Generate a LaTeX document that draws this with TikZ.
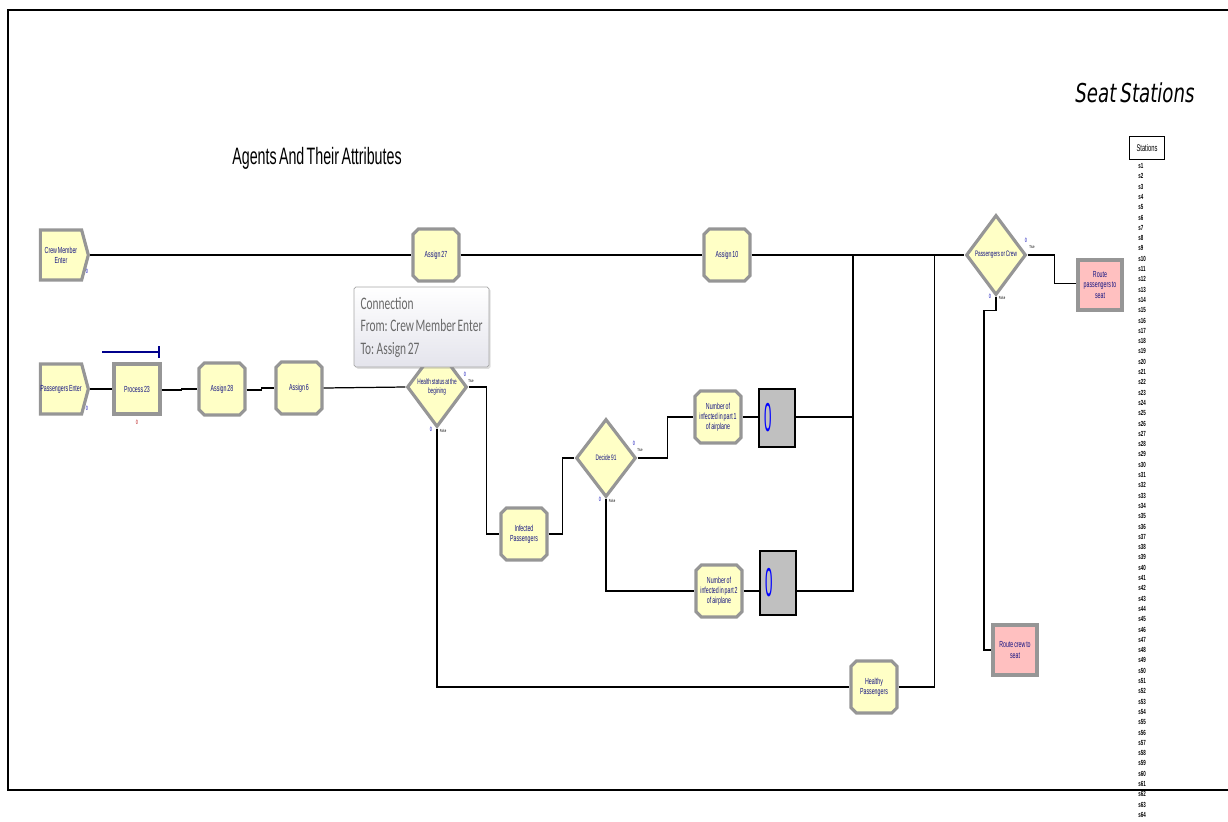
\documentclass[tikz,border=0pt]{standalone}
\usepackage{fontspec}
\setmainfont{Liberation Sans}
\newfontfamily\narrowfont{Liberation Sans}[FakeStretch=0.6,WordSpace=0.6]
\newfontfamily\seatfont{DejaVu Sans}[FakeStretch=0.7,WordSpace=0.7]
\newfontfamily\tipfont{Carlito}[FakeStretch=0.65,WordSpace=0.65]
\usetikzlibrary{shapes.geometric,shapes.misc,shapes.symbols,shadows}

\definecolor{modyellow}{RGB}{255,255,198}
\definecolor{modpink}{RGB}{255,192,192}
\definecolor{modedge}{RGB}{150,150,150}
\definecolor{modtext}{RGB}{20,20,130}
\definecolor{countgray}{RGB}{192,192,192}
\definecolor{tipgray}{RGB}{105,105,105}

\begin{document}
\begin{tikzpicture}[x=0.02cm,y=-0.02cm,
    module/.style={draw=modedge,line width=1.8pt,fill=modyellow,text=modtext,
        font=\narrowfont\fontsize{5}{5.8}\selectfont,align=center,inner sep=0pt},
    createbox/.style={module,signal,signal to=east,signal pointer angle=150,
        minimum width=0.96cm,minimum height=1.0cm},
    assignbox/.style={module,chamfered rectangle,chamfered rectangle xsep=1.5pt,
        chamfered rectangle ysep=1.5pt,minimum width=0.92cm,minimum height=1.04cm},
    processbox/.style={module,rectangle,minimum width=0.92cm,minimum height=1.0cm},
    decidebox/.style={module,diamond,minimum width=1.2cm,minimum height=1.6cm,
        font=\narrowfont\fontsize{4.5}{5.6}\selectfont},
    routebox/.style={module,rectangle,fill=modpink,minimum width=0.88cm,minimum height=1.0cm},
    countbox/.style={draw=black,line width=0.6pt,fill=countgray},
    link/.style={draw=black,line width=0.7pt},
    counter/.style={font=\narrowfont\fontsize{3.5}{4}\selectfont,text=blue!70!black,inner sep=0pt},
    flag/.style={font=\narrowfont\fontsize{2.5}{3}\selectfont,inner sep=0pt},
    slot/.style={font=\narrowfont\bfseries\fontsize{4.2}{5}\selectfont,inner sep=0pt,anchor=west}]

    \useasboundingbox (0,0) rectangle (1228,822);

    % outer frame of the sheet
    \draw[line width=0.8pt] (1240,10) -- (8,10) -- (8,790) -- (1240,790);

    % headings
    \node[font=\narrowfont\fontsize{13.5}{15}\selectfont] (agents) at (317,158) {Agents And Their Attributes};
    \node[font=\seatfont\itshape\fontsize{14.8}{17}\selectfont] (seat) at (1135,93) {Seat Stations};

    % crew line
    \node[createbox] (crewenter) at (61,255) {Crew Member\\Enter};
    \node[assignbox] (assign27) at (436,255) {Assign 27};
    \node[assignbox] (assign10) at (727,255) {Assign 10};

    % passenger line
    \node[createbox] (paxenter) at (61,389) {Passengers Enter};
    \node[processbox] (process23) at (137,389) {Process 23};
    \node[assignbox] (assign28) at (222,389) {Assign 28};
    \node[assignbox] (assign6) at (299,388) {Assign 6};
    \node[decidebox] (health) at (437,387) {Health status at the\\begining};

    % infected branch
    \node[assignbox] (infected) at (524,534) {Infected\\Passengers};
    \node[decidebox,minimum height=1.56cm] (decide91) at (606,458) {Decide 91};
    \node[assignbox] (part1) at (718,417) {Number of\\infected in part 1\\of airplane};
    \node[assignbox] (part2) at (719,591) {Number of\\infected in part 2\\of airplane};
    \node[countbox,minimum width=0.72cm,minimum height=1.16cm] (count1) at (777,418) {};
    \node[countbox,minimum width=0.72cm,minimum height=1.28cm] (count2) at (778,583) {};
    \node[text=blue,font=\narrowfont\fontsize{23}{24}\selectfont,inner sep=0pt] (zero1) at (768,418) {\scalebox{0.55}[1]{0}};
    \node[text=blue,font=\narrowfont\fontsize{23}{24}\selectfont,inner sep=0pt] (zero2) at (769,583) {\scalebox{0.55}[1]{0}};

    % healthy branch
    \node[assignbox] (healthy) at (874,687) {Healthy\\Passengers};

    % routing to the seats
    \node[decidebox] (paxorcrew) at (996,255) {Passengers or Crew};
    \node[routebox] (routepax) at (1100,285) {Route\\passengers to\\seat};
    \node[routebox] (routecrew) at (1015,650) {Route crew to\\seat};

    % station list
    \node[draw=black,line width=0.8pt,fill=white,minimum width=0.7cm,minimum height=0.46cm,
        font=\narrowfont\fontsize{5.5}{6}\selectfont,inner sep=0pt] (stations) at (1147,148) {Stations};
    \foreach \i in {1,...,64}
        \node[slot] (s\i) at (1138,{166+(\i-1)*10.3}) {s\i};

    % counters next to the modules
    \node[counter] (c1) at (87,271) {0};
    \node[counter] (c2) at (87,408) {0};
    \node[counter,text=red!70!black] (c3) at (137,422) {0};
    \node[counter] (c4) at (465,374) {0};
    \node[flag] (t4) at (471,381) {True};
    \node[counter] (c5) at (431,429) {0};
    \node[flag] (f5) at (443,431) {False};
    \node[counter] (c6) at (634,443) {0};
    \node[flag] (t6) at (640,450) {True};
    \node[counter] (c7) at (600,499) {0};
    \node[flag] (f7) at (612,501) {False};
    \node[counter] (c8) at (1026,240) {0};
    \node[flag] (t8) at (1032,247) {True};
    \node[counter] (c9) at (990,296) {0};
    \node[flag] (f9) at (1002,298) {False};

    % queue bar of the process
    \draw[line width=0.8pt,blue!55!black] (102,352) -- (159,352);
    \draw[line width=0.8pt,blue!55!black] (159,346) -- (159,358);

    % connections
    \coordinate (merge) at (853,255);
    \draw[link] (crewenter.east) -- (assign27.west);
    \draw[link] (assign27.east) -- (assign10.west);
    \draw[link] (assign10.east) -- (paxorcrew.west);
    \draw[link] (paxenter.east) -- (process23.west);
    \draw[link] (process23.east) ++(0,1) -- ++(20,0) |- (assign28.west);
    \draw[link] (assign28.east) ++(0,1) -- ++(15,0) |- (assign6.west);
    \draw[link] (assign6.east) -- (health.west);
    \draw[link] (health.east) -- ++(18,0) |- (infected.west);
    \draw[link] (health.south) |- (healthy.west);
    \draw[link] (infected.east) -- ++(14,0) |- (decide91.west);
    \draw[link] (decide91.east) -- ++(30,0) |- (part1.west);
    \draw[link] (decide91.south) |- (part2.west);
    \draw[link] (part1.east) -- (count1.west |- part1.east);
    \draw[link] (part2.east) -- (count2.west |- part2.east);
    \draw[link] (count1.east |- part1.east) -| (merge);
    \draw[link] (count2.east |- part2.east) -| (merge);
    \draw[link] (healthy.east) -- ++(36,0) |- (paxorcrew.west);
    \draw[link] (paxorcrew.east) -- ++(27,0) |- ([yshift=1pt]routepax.west);
    \draw[link] (paxorcrew.south) -- ++(0,14) -- ++(-12,0) |- (routecrew.west);

    % hover box over the first connection
    \node[draw=gray!70,fill=white,top color=white,bottom color={rgb,255:red,228;green,228;blue,236},
        rounded corners=1pt,drop shadow={shadow xshift=1pt,shadow yshift=-1pt,opacity=0.25},
        text=tipgray,font=\tipfont\fontsize{10}{12.8}\selectfont,align=left,
        minimum width=2.7cm,inner sep=0.1cm,minimum height=1.6cm] (tip) at (421.5,327)
        {Connection\\From: Crew Member Enter\\To: Assign 27};
\end{tikzpicture}
\end{document}
